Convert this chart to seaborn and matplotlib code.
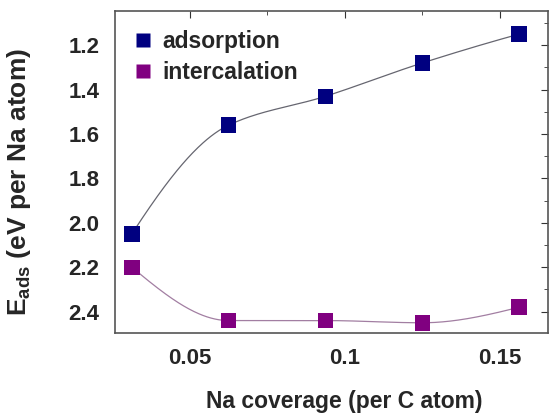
import numpy as np
import pandas as pd
import matplotlib
matplotlib.use("Agg")
import matplotlib.pyplot as plt
import seaborn as sns
from matplotlib.ticker import MultipleLocator, FuncFormatter

coverage = [0.03125, 0.0625, 0.09375, 0.125, 0.15625]
adsorption = [2.05, 1.56, 1.43, 1.28, 1.15]
intercalation = [2.20, 2.44, 2.44, 2.45, 2.38]
series_names = ["adsorption", "intercalation"]
colors = ["#000080", "#800080"]
line_colors = ["#666670", "#a27ea2"]


def pchip(x, y, n=300):
    x = np.asarray(x, float); y = np.asarray(y, float)
    h = np.diff(x); delta = np.diff(y) / h
    k = len(x); d = np.zeros(k)
    for i in range(1, k - 1):
        if delta[i - 1] * delta[i] > 0:
            w1 = 2 * h[i] + h[i - 1]; w2 = h[i] + 2 * h[i - 1]
            d[i] = (w1 + w2) / (w1 / delta[i - 1] + w2 / delta[i])
    for e, (hh0, hh1, dd0, dd1) in ((0, (h[0], h[1], delta[0], delta[1])),
                                    (k - 1, (h[-1], h[-2], delta[-1], delta[-2]))):
        v = ((2 * hh0 + hh1) * dd0 - hh0 * dd1) / (hh0 + hh1)
        if np.sign(v) != np.sign(dd0):
            v = 0
        elif np.sign(dd0) != np.sign(dd1) and abs(v) > abs(3 * dd0):
            v = 3 * dd0
        d[e] = v
    xs = np.linspace(x[0], x[-1], n); ys = np.empty_like(xs)
    for j, xv in enumerate(xs):
        i = min(np.searchsorted(x, xv, side="right") - 1, k - 2)
        t = (xv - x[i]) / h[i]
        h00 = 2 * t**3 - 3 * t**2 + 1; h10 = t**3 - 2 * t**2 + t
        h01 = -2 * t**3 + 3 * t**2; h11 = t**3 - t**2
        ys[j] = h00 * y[i] + h10 * h[i] * d[i] + h01 * y[i + 1] + h11 * h[i] * d[i + 1]
    return xs, ys


sns.set_style("white")
plt.rcParams["font.family"] = ["Liberation Sans", "DejaVu Sans"]
plt.rcParams["font.weight"] = "bold"
plt.rcParams["mathtext.fontset"] = "custom"
plt.rcParams["mathtext.rm"] = "Liberation Sans:bold"
plt.rcParams["mathtext.bf"] = "Liberation Sans:bold"

fig = plt.figure(figsize=(5.5, 4.16), dpi=100)
ax = fig.add_axes([0.209, 0.199, 0.787, 0.774])

df = pd.DataFrame({
    "coverage": coverage * 2,
    "E": adsorption + intercalation,
    "series": [series_names[0]] * 5 + [series_names[1]] * 5,
})

for name, vals, lc in zip(series_names, [adsorption, intercalation], line_colors):
    xs, ys = pchip(coverage, vals)
    sns.lineplot(x=xs, y=ys, ax=ax, color=lc, linewidth=0.9, legend=False)

sns.scatterplot(data=df, x="coverage", y="E", hue="series", palette=colors,
                marker="s", s=125, edgecolor="none", ax=ax, zorder=3)

ax.set_xlim(0.0258, 0.1655)
ax.set_ylim(2.497, 1.047)

ax.xaxis.set_major_locator(MultipleLocator(0.05))
ax.xaxis.set_minor_locator(MultipleLocator(0.025))
ax.xaxis.set_major_formatter(FuncFormatter(lambda v, p: "%g" % round(v, 3)))
ax.yaxis.set_major_locator(MultipleLocator(0.2))
ax.yaxis.set_minor_locator(MultipleLocator(0.1))
ax.yaxis.set_major_formatter(FuncFormatter(lambda v, p: "%.1f" % v))
ax.tick_params(axis="both", which="major", direction="out", length=5, width=1,
               labelsize=16, color="#333333", pad=6)
ax.tick_params(axis="both", which="minor", direction="out", length=3, width=1, color="#333333")
for lab in ax.get_xticklabels() + ax.get_yticklabels():
    lab.set_fontweight("bold")

# mirrored inward ticks on top and right
top = ax.secondary_xaxis("top")
top.xaxis.set_major_locator(MultipleLocator(0.05))
top.xaxis.set_minor_locator(MultipleLocator(0.025))
top.tick_params(which="major", direction="in", length=5, labeltop=False, color="#333333")
top.tick_params(which="minor", direction="in", length=3, color="#333333")
right = ax.secondary_yaxis("right")
right.yaxis.set_major_locator(MultipleLocator(0.2))
right.yaxis.set_minor_locator(MultipleLocator(0.1))
right.tick_params(which="major", direction="in", length=5, labelright=False, color="#333333")
right.tick_params(which="minor", direction="in", length=3, color="#333333")

for sp in list(ax.spines.values()):
    sp.set_color("#555555"); sp.set_linewidth(1.2)
top.spines["top"].set_visible(False)
right.spines["right"].set_visible(False)

ax.set_xlabel("Na coverage (per C atom)", fontsize=16.5, fontweight="bold")
ax.set_ylabel(r"E$_{\mathregular{ads}}$ (eV per Na atom)", fontsize=19, fontweight="bold")
ax.xaxis.set_label_coords(0.529, -0.175)
ax.yaxis.set_label_coords(-0.19, 0.47)

leg = ax.legend(loc="upper left", bbox_to_anchor=(0.007, 0.978), frameon=False,
                fontsize=16.5, handletextpad=0.25, labelspacing=0.38,
                borderaxespad=0.3, borderpad=0.2, handlelength=1.2, markerscale=0.9)
for t in leg.get_texts():
    t.set_fontweight("bold")

fig.savefig("out.png", dpi=100)
